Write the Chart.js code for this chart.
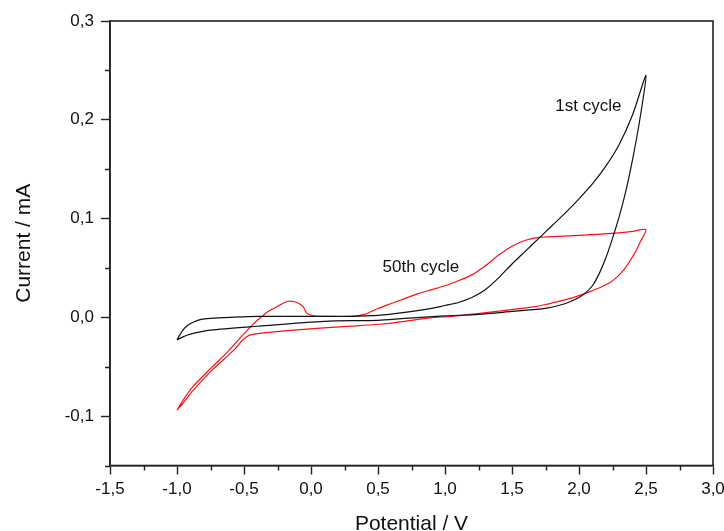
<!DOCTYPE html>
<html lang="en">
<head>
<meta charset="UTF-8">
<title>CV cycles</title>
<script src="https://cdn.jsdelivr.net/npm/chart.js@4.4.1/dist/chart.umd.min.js"></script>
<style>
  html, body { margin: 0; padding: 0; background: #fff; }
  #board { width: 724px; height: 531px; }
</style>
</head>
<body>
<div id="board">
  <canvas id="chart1" width="724" height="531"></canvas>
</div>
<script>
// 1st cycle: forward scan from -1.0 V up to 2.5 V, then back
const cycle1V = [-1.00, -0.98, -0.95, -0.92, -0.88, -0.82, -0.75, -0.60, -0.40, 0.00, 0.30, 0.50, 0.70, 0.90, 1.00, 1.10, 1.20, 1.30, 1.40, 1.50, 1.60, 1.70, 1.80, 1.90, 2.00, 2.10, 2.20, 2.30, 2.40, 2.50,
                 2.45, 2.40, 2.35, 2.30, 2.25, 2.20, 2.15, 2.10, 2.05, 2.00, 1.90, 1.75, 1.50, 1.25, 1.00, 0.70, 0.50, 0.10, -0.40, -0.75, -0.90, -0.96, -1.00];
const cycle1I = [-0.023, -0.018, -0.012, -0.008, -0.005, -0.002, -0.001, 0.000, 0.001, 0.001, 0.001, 0.002, 0.005, 0.009, 0.012, 0.015, 0.020, 0.028, 0.040, 0.054, 0.067, 0.080, 0.093, 0.106, 0.120, 0.135, 0.153, 0.175, 0.205, 0.245,
                 0.197, 0.160, 0.128, 0.102, 0.080, 0.060, 0.044, 0.032, 0.025, 0.020, 0.014, 0.009, 0.006, 0.003, 0.0015, -0.001, -0.003, -0.004, -0.009, -0.013, -0.017, -0.020, -0.023];

// 50th cycle
const cycle50V = [-1.00, -0.95, -0.88, -0.75, -0.63, -0.55, -0.46, -0.40, -0.33, -0.25, -0.18, -0.13, -0.09, -0.06, -0.03, 0.02, 0.10, 0.30, 0.40, 0.50, 0.60, 0.70, 0.80, 0.90, 1.00, 1.10, 1.20, 1.30, 1.40, 1.50, 1.60, 1.70, 1.85, 2.00, 2.25, 2.40, 2.50,
                  2.46, 2.42, 2.38, 2.34, 2.30, 2.24, 2.17, 2.08, 1.98, 1.90, 1.75, 1.63, 1.45, 1.26, 1.05, 0.89, 0.70, 0.51, 0.30, 0.07, -0.13, -0.30, -0.40, -0.46, -0.51, -0.56, -0.63, -0.75, -0.88, -0.95, -1.00];
const cycle50I = [-0.094, -0.083, -0.070, -0.052, -0.036, -0.024, -0.011, -0.003, 0.005, 0.011, 0.016, 0.016, 0.014, 0.011, 0.004, 0.0015, 0.001, 0.001, 0.003, 0.009, 0.014, 0.019, 0.024, 0.028, 0.032, 0.037, 0.043, 0.052, 0.063, 0.072, 0.078, 0.081, 0.082, 0.083, 0.085, 0.087, 0.089,
                  0.077, 0.066, 0.057, 0.049, 0.043, 0.036, 0.031, 0.026, 0.021, 0.018, 0.013, 0.010, 0.007, 0.004, 0.001, -0.0005, -0.004, -0.007, -0.009, -0.011, -0.013, -0.015, -0.0165, -0.018, -0.023, -0.031, -0.040, -0.055, -0.074, -0.086, -0.094];

const xTickValues = [-1.5, -1.0, -0.5, 0.0, 0.5, 1.0, 1.5, 2.0, 2.5, 3.0];
const xMinorTicks = [-1.25, -0.75, -0.25, 0.25, 0.75, 1.25, 1.75, 2.25, 2.75];
const yTickValues = [-0.1, 0.0, 0.1, 0.2, 0.3];
const yMinorTicks = [-0.15, -0.05, 0.05, 0.15, 0.25];

const cycleNotes = [
  { text: '1st cycle', x: 2.07, y: 0.214 },
  { text: '50th cycle', x: 0.82, y: 0.051 }
];

const toPoints = (xs, ys) => xs.map((v, i) => ({ x: v, y: ys[i] }));
const fmt = v => v.toFixed(1).replace('.', ',');
const FONT = 'Arial, "Liberation Sans", sans-serif';

// box round the plot, minor ticks, curve notes
const framePlugin = {
  id: 'frame',
  afterDraw(chart) {
    const { ctx, chartArea: a, scales: { x, y } } = chart;
    ctx.save();
    ctx.strokeStyle = '#222';
    ctx.lineWidth = 1.6;
    ctx.strokeRect(a.left, a.top, a.right - a.left, a.bottom - a.top);

    ctx.lineWidth = 1.4;
    ctx.beginPath();
    xMinorTicks.forEach(v => {
      const px = Math.round(x.getPixelForValue(v)) + 0.5;
      ctx.moveTo(px, a.bottom);
      ctx.lineTo(px, a.bottom + 5);
    });
    yMinorTicks.forEach(v => {
      const py = Math.round(y.getPixelForValue(v)) + 0.5;
      ctx.moveTo(a.left, py);
      ctx.lineTo(a.left - 5, py);
    });
    ctx.stroke();

    ctx.fillStyle = '#111';
    ctx.font = '17px ' + FONT;
    ctx.textAlign = 'center';
    ctx.textBaseline = 'middle';
    cycleNotes.forEach(n => {
      ctx.fillText(n.text, x.getPixelForValue(n.x), y.getPixelForValue(n.y));
    });
    ctx.restore();
  }
};

const ctx = document.getElementById('chart1').getContext('2d');
new Chart(ctx, {
  type: 'scatter',
  data: {
    datasets: [
      {
        label: '1st cycle',
        data: toPoints(cycle1V, cycle1I),
        showLine: true,
        borderColor: '#111',
        borderWidth: 1.2,
        pointRadius: 0,
        tension: 0.25
      },
      {
        label: '50th cycle',
        data: toPoints(cycle50V, cycle50I),
        showLine: true,
        borderColor: '#ff1010',
        borderWidth: 1.2,
        pointRadius: 0,
        tension: 0.25
      }
    ]
  },
  options: {
    responsive: false,
    animation: false,
    layout: { padding: { top: 21, right: 11, left: 0, bottom: 0 } },
    plugins: {
      legend: { display: false },
      tooltip: { enabled: false }
    },
    scales: {
      x: {
        type: 'linear',
        min: -1.5,
        max: 3.0,
        afterBuildTicks: s => { s.ticks = xTickValues.map(v => ({ value: v })); },
        afterFit: s => { s.height = 65.5; s.paddingLeft = 0; s.paddingRight = 0; },
        ticks: { callback: fmt, color: '#111', font: { size: 17, family: FONT }, padding: 5, maxRotation: 0, autoSkip: false },
        grid: { drawOnChartArea: false, tickLength: 9, tickColor: '#222', tickWidth: 1.4 },
        border: { color: '#222', width: 1.6 },
        title: { display: true, text: 'Potential / V', color: '#111', font: { size: 21, family: FONT }, padding: { top: 0, bottom: -6 } }
      },
      y: {
        type: 'linear',
        min: -0.15,
        max: 0.3,
        afterBuildTicks: s => { s.ticks = yTickValues.map(v => ({ value: v })); },
        afterFit: s => { s.width = 110; s.paddingTop = 0; s.paddingBottom = 0; },
        ticks: { callback: fmt, color: '#111', font: { size: 17, family: FONT }, padding: 7, autoSkip: false },
        grid: { drawOnChartArea: false, tickLength: 9, tickColor: '#222', tickWidth: 1.4 },
        border: { color: '#222', width: 1.6 },
        title: { display: true, text: 'Current / mA', color: '#111', font: { size: 21, family: FONT }, padding: { top: 12, bottom: 0 } }
      }
    }
  },
  plugins: [framePlugin]
});
</script>
</body>
</html>
